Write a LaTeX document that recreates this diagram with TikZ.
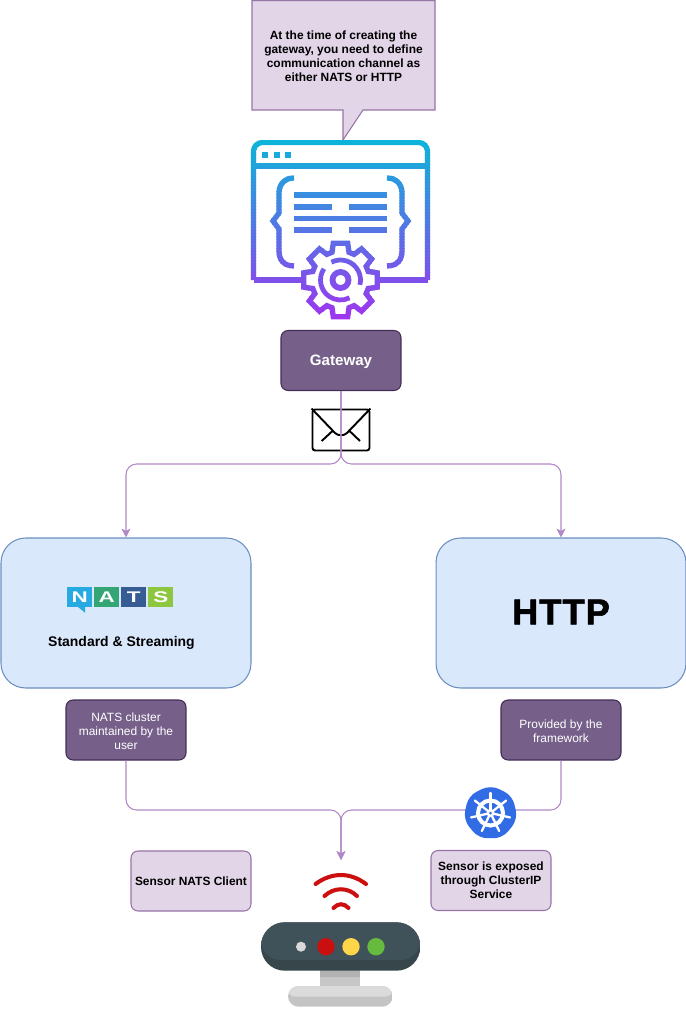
\documentclass[tikz,border=0pt]{standalone}
\usepackage{fontspec}
\setmainfont{Liberation Sans}
\newfontfamily\httpfont[FakeBold=1.6,LetterSpace=3]{Liberation Sans Bold}
\usepackage{xcolor}
\usetikzlibrary{arrows.meta, calc}
\definecolor{notepurple}{HTML}{E1D5E7}
\definecolor{noteedge}{HTML}{9673A6}
\definecolor{darkpurple}{HTML}{76608A}
\definecolor{darkedge}{HTML}{432D57}
\definecolor{paleblue}{HTML}{DAE8FC}
\definecolor{blueedge}{HTML}{6C8EBF}
\definecolor{flowline}{HTML}{B088C8}
\definecolor{iconcyan}{HTML}{0DB4D9}
\definecolor{iconviolet}{HTML}{A033F0}
\definecolor{natscyan}{HTML}{27AAE1}
\definecolor{k8sblue}{HTML}{326CE5}
\definecolor{wifired}{HTML}{CC0F0F}
\definecolor{slatetop}{HTML}{3F5259}
\definecolor{slatelow}{HTML}{36464B}

\tikzset{
    txt/.style={font=\fontsize{6.8}{7.94}\selectfont\bfseries, align=center, inner sep=0pt},
    whitetxt/.style={font=\fontsize{6.8}{7.94}\selectfont, align=center, inner sep=0pt, text=white},
    darkbox/.style={draw=darkedge, fill=darkpurple, rounded corners=4pt, line width=0.6pt,
        minimum width=2.4cm, minimum height=1.2cm, align=center, inner sep=0pt, text=white},
    notebox/.style={darkbox, draw=noteedge, fill=notepurple, text=black},
    bigbox/.style={draw=blueedge, fill=paleblue, rounded corners=14pt, line width=0.6pt,
        minimum width=5cm, minimum height=3cm, inner sep=0pt},
    flow/.style={draw=flowline, line width=0.6pt, rounded corners=6pt},
    flowtip/.style={flow, -{Stealth[length=5pt, width=5pt, inset=1.2pt]}},
    natstile/.style={minimum width=0.5cm, minimum height=0.4cm, inner sep=0pt, text=white,
        font=\fontsize{8.8}{8.8}\selectfont\bfseries},
    iconline/.style={line width=3pt},
}

% window with braces and gear, painted in bands for the colour ramp
\newcommand{\gatewayicon}{
    \draw[iconline, rounded corners=5pt] (253.5,280) -- (253.5,142.5) -- (427.5,142.5) -- (427.5,280);
    \draw[iconline] (253.5,280) -- (427.5,280);
    \draw[iconline] (253.5,166) -- (427.5,166);
    \foreach \x in {262, 273.5, 285}
        \fill (\x,152) rectangle (\x+6,157.5);
    \fill (294,192.3) rectangle (387,198);
    \fill (294,215.7) rectangle (387,221.3);
    \foreach \y in {203.7, 227}{
        \fill (294,\y) rectangle (331.7,\y+5.8);
        \fill (349.3,\y) rectangle (387,\y+5.8);
    }
    \draw[iconline] (294,178) .. controls (284,178) and (279,185) .. (279,193) -- (279,213)
        -- (273,221) -- (279,229) -- (279,251) .. controls (279,260) and (284,266) .. (294,266);
    \draw[iconline] (387,178) .. controls (397,178) and (402,185) .. (402,193) -- (402,213)
        -- (408,221) -- (402,229) -- (402,251) .. controls (402,260) and (397,266) .. (387,266);
    \begin{scope}[shift={(340.5,280)}]
        \draw[iconline, fill=white, line join=miter] (-101:37.5)
            \foreach \a in {0,45,...,315}{
                -- (\a-101:37.5) -- (\a-79:37.5) -- (\a-73:29) -- (\a-62:29)
                -- (\a-56:37.5)
            } -- cycle;
        \draw[line width=3.3pt] (0,0) circle (8);
        \draw[line width=2.7pt] (-117:20) arc[start angle=-117, end angle=14, radius=20];
        \draw[line width=2.7pt] (-146:20) arc[start angle=-146, end angle=-297, radius=20];
    \end{scope}
}

\begin{document}
\begin{tikzpicture}[x=0.02cm, y=-0.02cm]
\useasboundingbox (0,0) rectangle (686,1021);

\draw[draw=noteedge, fill=notepurple, line width=0.6pt]
    (252,0.5) -- (435,0.5) -- (435,110) -- (363,110) -- (343,140) -- (343,110) -- (252,110) -- cycle;
\node[txt] (note) at (343.5,56) {At the time of creating the\\gateway, you need to define\\communication channel as\\either NATS or HTTP};

\foreach \y in {140,143,...,320}{
    \pgfmathsetmacro{\mixval}{(\y-140)/1.8}
    \colorlet{bandcol}{iconviolet!\mixval!iconcyan}
    \begin{scope}[color=bandcol]
        \clip (240,\y) rectangle (440,\y+3.3);
        \gatewayicon
    \end{scope}
}

\node[darkbox] (gateway) at (341,360.5) {};
\node[inner sep=0pt, text=white, font=\fontsize{8.6}{9}\selectfont\bfseries] (gatewaytext) at (341,362) {Gateway};

\node[draw=black, fill=white, line width=1.1pt, rounded corners=1.5pt, minimum width=1.14cm, minimum height=0.82cm, inner sep=0pt] (mail) at (341,430) {};
\draw[line width=1.1pt, line join=round] (mail.north west) -- (335,433) .. controls (338,436) and (344,436) .. (347,433) -- (mail.north east);
\draw[line width=1.1pt] (321.7,441) -- (333,430.5);
\draw[line width=1.1pt] (360,441) -- (348.5,430);

\node[bigbox] (natsbox) at (126,613) {};
\node[bigbox] (httpbox) at (561,613) {};

\coordinate (split) at (341,464);
\draw[flowtip] (gateway.south) -- (split) -| (natsbox.north);
\draw[flowtip] (gateway.south) -- (split) -| (httpbox.north);

\foreach \x/\m/\c in {
    79.8/N/27AAE1, 106.8/A/34A574,
    133.8/T/375C93, 160.8/S/8DC63F}{
    \definecolor{tilecol}{HTML}{\c}
    \node[natstile, fill=tilecol] (tile\m) at (\x,597) {\scalebox{1.45}[1]{\m}};
}
\fill[natscyan] (78,607) -- (85,607) -- (85,612.7) -- cycle;
\node[inner sep=0pt, font=\fontsize{7.94}{9}\selectfont\bfseries] (natstext) at (121.5,643) {Standard \& Streaming};
\node[inner sep=0pt, font=\fontsize{20.6}{22}\httpfont] (httptext) at (561,612) {HTTP};

\node[darkbox] (natscluster) at (126,730) {};
\node[whitetxt] (natslabel) at (126,731) {NATS cluster\\maintained by the\\user};
\node[darkbox] (provided) at (561,730) {};
\node[whitetxt] (providedlabel) at (561,731) {Provided by the\\framework};

\coordinate (merge) at (341,810);
\coordinate (sensorin) at (341,860);
\draw[flowtip] (natscluster.south) |- (merge) -- (sensorin);
\draw[flowtip] (provided.south) |- (merge) -- (sensorin);

\begin{scope}[shift={(490.5,813)}]
    \fill[k8sblue, rounded corners=5pt] (-90:28) \foreach \k in {1,...,6}{ -- (-90+\k*51.43:28) } -- cycle;
    \draw[white, line width=2.3pt] (0,0) circle (12.5);
    \foreach \k in {0,...,6}{
        \draw[white, line width=1.3pt, line cap=round] (-90+\k*51.43:3) -- (-90+\k*51.43:20);
    }
    \fill[white] (0,0) circle (4);
    \fill[k8sblue] (0,0) circle (1.5);
\end{scope}

\node[notebox, txt, minimum width=2.4cm, minimum height=1.2cm] (natsclient) at (191,881) {Sensor NATS Client};
\node[notebox, txt, minimum width=2.4cm, minimum height=1.2cm] (clusterip) at (491,880.5) {Sensor is exposed\\through ClusterIP\\Service};

\draw[wifired, line width=2.3pt, line cap=round] (315.5,884) .. controls (332,872) and (350,872) .. (366,884);
\draw[wifired, line width=2.3pt, line cap=round] (324.5,896) .. controls (334,887) and (348,887) .. (357,896);
\draw[wifired, line width=2.3pt, line cap=round] (333.5,908) .. controls (338,903) and (344,903) .. (348.5,908);

% stand, base and body of the sensor
\fill[black!22] (320.3,970) rectangle (360.3,986);
\fill[black!30] (320.3,970) rectangle (360.3,977);
\begin{scope}
    \clip[rounded corners=6pt] (288,986) rectangle (392.7,1006.7);
    \fill[black!23] (288,986) rectangle (392.7,1006.7);
    \fill[black!14, rounded corners=4pt] (288,986) rectangle (392.7,996.5);
\end{scope}
\begin{scope}
    \clip[rounded corners=13.5pt] (261,922.3) rectangle (420.3,970.7);
    \fill[slatelow] (261,922.3) rectangle (420.3,970.7);
    \fill[slatetop, rounded corners=11pt] (261,915) rectangle (420.3,960);
\end{scope}
\foreach \x/\r/\c in {
    301/5/D9D9D9, 326/8.7/C90F0F,
    351/8.7/FFD54A, 376/8.7/66BB3F}{
    \definecolor{ledcol}{HTML}{\c}
    \fill[ledcol] (\x,946.7) circle (\r);
}
\end{tikzpicture}
\end{document}
